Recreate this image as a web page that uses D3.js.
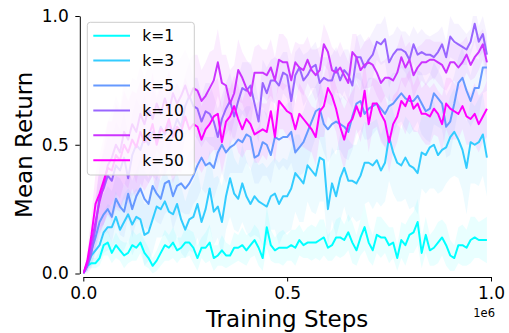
<!DOCTYPE html>
<html>
<head>
<meta charset="utf-8">
<script src="https://cdn.jsdelivr.net/npm/d3@7"></script>
<style>
    body { margin: 0; background: #ffffff; }
    svg { font-family: "DejaVu Sans", sans-serif; }
</style>
</head>
<body>
<div id="chart"></div>
<script>
// evaluation points, one every 1e4 training steps
var steps = d3.range(0, 100).map(function(i) { return i * 10000 })

var labels = ["k=1", "k=3", "k=5", "k=10", "k=20", "k=50"]
var colors = ["#00ffff", "#33ccff", "#6699ff", "#9966ff", "#cc33ff", "#ff00ff"]

var xTicks = [0, 500000, 1000000]
var yTicks = [0, 0.5, 1.0]

var meanK1 = [
    0.00, 0.03, 0.04, 0.04, 0.06, 0.11, 0.12, 0.08, 0.11, 0.09,
    0.07, 0.08, 0.11, 0.10, 0.12, 0.08, 0.06, 0.03, 0.05, 0.08,
    0.11, 0.10, 0.12, 0.09, 0.10, 0.12, 0.12, 0.10, 0.06, 0.10,
    0.10, 0.12, 0.06, 0.07, 0.09, 0.07, 0.07, 0.10, 0.10, 0.11,
    0.09, 0.11, 0.13, 0.10, 0.06, 0.18, 0.11, 0.09, 0.10, 0.10,
    0.10, 0.11, 0.10, 0.13, 0.11, 0.12, 0.12, 0.12, 0.13, 0.14,
    0.10, 0.11, 0.14, 0.14, 0.13, 0.16, 0.12, 0.09, 0.14, 0.18,
    0.12, 0.09, 0.15, 0.14, 0.14, 0.11, 0.12, 0.06, 0.13, 0.11,
    0.15, 0.16, 0.20, 0.08, 0.15, 0.09, 0.10, 0.12, 0.14, 0.11,
    0.07, 0.06, 0.11, 0.11, 0.10, 0.13, 0.14, 0.13, 0.13, 0.13
]
var meanK3 = [
    0.00, 0.03, 0.07, 0.09, 0.11, 0.16, 0.18, 0.18, 0.22, 0.17,
    0.20, 0.23, 0.19, 0.22, 0.21, 0.15, 0.16, 0.21, 0.26, 0.25,
    0.28, 0.24, 0.23, 0.27, 0.21, 0.17, 0.21, 0.22, 0.27, 0.20,
    0.25, 0.33, 0.24, 0.26, 0.20, 0.30, 0.37, 0.31, 0.29, 0.35,
    0.30, 0.27, 0.30, 0.28, 0.27, 0.26, 0.30, 0.31, 0.27, 0.30,
    0.30, 0.33, 0.39, 0.37, 0.35, 0.42, 0.40, 0.38, 0.45, 0.44,
    0.25, 0.35, 0.30, 0.37, 0.41, 0.36, 0.36, 0.35, 0.38, 0.43,
    0.43, 0.42, 0.44, 0.40, 0.43, 0.53, 0.47, 0.43, 0.42, 0.45,
    0.42, 0.41, 0.39, 0.47, 0.46, 0.49, 0.50, 0.46, 0.48, 0.49,
    0.53, 0.55, 0.52, 0.48, 0.41, 0.51, 0.50, 0.51, 0.54, 0.45
]
var meanK5 = [
    0.00, 0.04, 0.09, 0.14, 0.20, 0.23, 0.25, 0.22, 0.29, 0.26,
    0.24, 0.31, 0.25, 0.30, 0.33, 0.29, 0.27, 0.34, 0.31, 0.29,
    0.35, 0.36, 0.30, 0.34, 0.35, 0.33, 0.35, 0.38, 0.42, 0.45,
    0.42, 0.43, 0.41, 0.47, 0.50, 0.47, 0.49, 0.50, 0.52, 0.51,
    0.54, 0.53, 0.45, 0.46, 0.51, 0.50, 0.46, 0.53, 0.52, 0.53,
    0.53, 0.55, 0.47, 0.49, 0.51, 0.55, 0.59, 0.63, 0.64, 0.58,
    0.56, 0.58, 0.59, 0.58, 0.57, 0.55, 0.61, 0.66, 0.67, 0.62,
    0.64, 0.65, 0.66, 0.64, 0.62, 0.65, 0.66, 0.68, 0.70, 0.68,
    0.67, 0.67, 0.69, 0.66, 0.63, 0.64, 0.70, 0.68, 0.66, 0.57,
    0.59, 0.66, 0.74, 0.76, 0.71, 0.67, 0.72, 0.72, 0.80, 0.80
]
var meanK10 = [
    0.00, 0.03, 0.08, 0.18, 0.30, 0.33, 0.38, 0.36, 0.42, 0.40,
    0.45, 0.37, 0.46, 0.50, 0.48, 0.53, 0.50, 0.55, 0.52, 0.57,
    0.54, 0.58, 0.55, 0.60, 0.57, 0.65, 0.69, 0.65, 0.64, 0.59,
    0.63, 0.62, 0.59, 0.53, 0.60, 0.64, 0.67, 0.61, 0.67, 0.72,
    0.71, 0.73, 0.66, 0.59, 0.74, 0.70, 0.75, 0.75, 0.73, 0.78,
    0.77, 0.67, 0.77, 0.80, 0.75, 0.77, 0.80, 0.81, 0.74, 0.76,
    0.75, 0.75, 0.80, 0.75, 0.79, 0.77, 0.73, 0.84, 0.84, 0.80,
    0.83, 0.85, 0.90, 0.89, 0.91, 0.82, 0.85, 0.87, 0.87, 0.86,
    0.83, 0.89, 0.85, 0.86, 0.85, 0.85, 0.84, 0.86, 0.89, 0.84,
    0.92, 0.90, 0.89, 0.88, 0.87, 0.90, 0.97, 0.90, 0.93, 0.85
]
var meanK20 = [
    0.00, 0.04, 0.12, 0.20, 0.28, 0.34, 0.42, 0.45, 0.50, 0.47,
    0.55, 0.52, 0.58, 0.55, 0.62, 0.58, 0.64, 0.60, 0.66, 0.62,
    0.68, 0.63, 0.70, 0.66, 0.69, 0.73, 0.68, 0.72, 0.71, 0.67,
    0.69, 0.72, 0.75, 0.82, 0.74, 0.73, 0.66, 0.70, 0.79, 0.76,
    0.72, 0.69, 0.78, 0.78, 0.78, 0.77, 0.80, 0.75, 0.83, 0.82,
    0.82, 0.75, 0.82, 0.80, 0.79, 0.83, 0.79, 0.77, 0.79, 0.89,
    0.86, 0.79, 0.78, 0.80, 0.77, 0.74, 0.86, 0.84, 0.79, 0.81,
    0.82, 0.81, 0.78, 0.74, 0.76, 0.76, 0.75, 0.78, 0.84, 0.80,
    0.83, 0.77, 0.80, 0.82, 0.82, 0.83, 0.83, 0.82, 0.81, 0.78,
    0.82, 0.82, 0.80, 0.82, 0.85, 0.81, 0.84, 0.86, 0.89, 0.82
]
var meanK50 = [
    0.00, 0.05, 0.15, 0.27, 0.31, 0.36, 0.41, 0.40, 0.46, 0.44,
    0.50, 0.47, 0.52, 0.49, 0.55, 0.51, 0.53, 0.58, 0.50, 0.56,
    0.55, 0.60, 0.53, 0.57, 0.55, 0.61, 0.56, 0.58, 0.57, 0.52,
    0.56, 0.58, 0.61, 0.62, 0.51, 0.59, 0.61, 0.65, 0.60, 0.56,
    0.60, 0.58, 0.54, 0.55, 0.56, 0.55, 0.63, 0.53, 0.67, 0.65,
    0.63, 0.62, 0.56, 0.62, 0.60, 0.58, 0.56, 0.53, 0.63, 0.65,
    0.72, 0.69, 0.64, 0.57, 0.52, 0.58, 0.60, 0.65, 0.61, 0.71,
    0.58, 0.66, 0.66, 0.62, 0.59, 0.51, 0.58, 0.61, 0.67, 0.65,
    0.69, 0.64, 0.66, 0.62, 0.62, 0.61, 0.64, 0.62, 0.58, 0.66,
    0.64, 0.63, 0.62, 0.65, 0.61, 0.60, 0.62, 0.58, 0.61, 0.64
]

var stdK1 = [
    0.00, 0.01, 0.02, 0.02, 0.03, 0.04, 0.05, 0.04, 0.05, 0.04,
    0.05, 0.04, 0.06, 0.05, 0.04, 0.05, 0.04, 0.03, 0.04, 0.05,
    0.06, 0.05, 0.06, 0.05, 0.04, 0.06, 0.05, 0.06, 0.05, 0.04,
    0.06, 0.07, 0.05, 0.04, 0.06, 0.05, 0.04, 0.06, 0.05, 0.07,
    0.06, 0.05, 0.06, 0.07, 0.05, 0.08, 0.06, 0.05, 0.06, 0.07,
    0.05, 0.06, 0.07, 0.06, 0.05, 0.06, 0.07, 0.06, 0.08, 0.07,
    0.05, 0.06, 0.07, 0.08, 0.06, 0.07, 0.08, 0.06, 0.07, 0.09,
    0.07, 0.06, 0.07, 0.08, 0.06, 0.07, 0.06, 0.05, 0.07, 0.08,
    0.07, 0.08, 0.09, 0.06, 0.07, 0.06, 0.07, 0.08, 0.07, 0.08,
    0.06, 0.05, 0.07, 0.08, 0.07, 0.09, 0.08, 0.07, 0.08, 0.09
]
var stdK3 = [
    0.00, 0.02, 0.04, 0.05, 0.06, 0.08, 0.09, 0.08, 0.10, 0.09,
    0.11, 0.10, 0.12, 0.11, 0.10, 0.12, 0.11, 0.13, 0.12, 0.11,
    0.13, 0.12, 0.14, 0.12, 0.13, 0.11, 0.12, 0.14, 0.13, 0.12,
    0.14, 0.15, 0.13, 0.12, 0.14, 0.13, 0.15, 0.14, 0.13, 0.15,
    0.14, 0.13, 0.15, 0.14, 0.16, 0.15, 0.13, 0.14, 0.16, 0.15,
    0.14, 0.16, 0.15, 0.17, 0.15, 0.14, 0.16, 0.15, 0.17, 0.16,
    0.15, 0.14, 0.16, 0.17, 0.15, 0.16, 0.14, 0.15, 0.17, 0.16,
    0.15, 0.17, 0.16, 0.14, 0.15, 0.17, 0.16, 0.15, 0.14, 0.16,
    0.17, 0.15, 0.16, 0.14, 0.15, 0.16, 0.17, 0.15, 0.16, 0.14,
    0.16, 0.17, 0.15, 0.16, 0.18, 0.16, 0.15, 0.17, 0.16, 0.15
]
var stdK5 = [
    0.00, 0.03, 0.05, 0.06, 0.07, 0.08, 0.09, 0.10, 0.09, 0.11,
    0.10, 0.09, 0.11, 0.10, 0.12, 0.11, 0.10, 0.12, 0.11, 0.10,
    0.12, 0.11, 0.13, 0.12, 0.11, 0.10, 0.12, 0.11, 0.13, 0.12,
    0.11, 0.10, 0.12, 0.13, 0.11, 0.12, 0.10, 0.11, 0.13, 0.12,
    0.11, 0.12, 0.10, 0.11, 0.13, 0.12, 0.11, 0.10, 0.12, 0.11,
    0.13, 0.12, 0.10, 0.11, 0.12, 0.13, 0.11, 0.10, 0.12, 0.11,
    0.13, 0.12, 0.11, 0.10, 0.12, 0.11, 0.13, 0.12, 0.11, 0.10,
    0.12, 0.11, 0.10, 0.12, 0.13, 0.11, 0.12, 0.10, 0.11, 0.12,
    0.13, 0.11, 0.10, 0.12, 0.11, 0.13, 0.12, 0.11, 0.10, 0.12,
    0.13, 0.11, 0.10, 0.12, 0.11, 0.10, 0.12, 0.11, 0.10, 0.09
]
var stdK10 = [
    0.00, 0.03, 0.06, 0.09, 0.12, 0.14, 0.15, 0.16, 0.17, 0.16,
    0.18, 0.17, 0.16, 0.18, 0.17, 0.16, 0.15, 0.17, 0.16, 0.15,
    0.14, 0.16, 0.15, 0.14, 0.13, 0.12, 0.13, 0.11, 0.12, 0.10,
    0.11, 0.12, 0.10, 0.11, 0.09, 0.10, 0.11, 0.10, 0.09, 0.10,
    0.11, 0.09, 0.10, 0.08, 0.09, 0.10, 0.08, 0.09, 0.10, 0.08,
    0.09, 0.10, 0.09, 0.08, 0.10, 0.09, 0.08, 0.09, 0.10, 0.08,
    0.09, 0.10, 0.08, 0.09, 0.08, 0.10, 0.09, 0.08, 0.09, 0.10,
    0.08, 0.09, 0.07, 0.08, 0.09, 0.10, 0.08, 0.09, 0.07, 0.08,
    0.09, 0.07, 0.08, 0.09, 0.08, 0.07, 0.09, 0.08, 0.07, 0.06,
    0.08, 0.07, 0.08, 0.07, 0.06, 0.05, 0.07, 0.06, 0.07, 0.08
]
var stdK20 = [
    0.00, 0.03, 0.06, 0.10, 0.13, 0.15, 0.17, 0.18, 0.19, 0.18,
    0.20, 0.19, 0.18, 0.20, 0.19, 0.18, 0.17, 0.19, 0.18, 0.17,
    0.16, 0.18, 0.17, 0.16, 0.15, 0.14, 0.15, 0.13, 0.14, 0.12,
    0.13, 0.14, 0.12, 0.13, 0.11, 0.12, 0.13, 0.11, 0.12, 0.10,
    0.11, 0.12, 0.10, 0.11, 0.09, 0.10, 0.11, 0.09, 0.10, 0.11,
    0.09, 0.10, 0.08, 0.09, 0.10, 0.09, 0.08, 0.10, 0.09, 0.08,
    0.07, 0.09, 0.08, 0.10, 0.09, 0.08, 0.07, 0.09, 0.08, 0.09,
    0.10, 0.08, 0.09, 0.08, 0.07, 0.09, 0.08, 0.10, 0.09, 0.08,
    0.07, 0.09, 0.08, 0.07, 0.09, 0.08, 0.07, 0.08, 0.09, 0.07,
    0.08, 0.07, 0.09, 0.08, 0.07, 0.06, 0.08, 0.07, 0.06, 0.08
]
var stdK50 = [
    0.00, 0.04, 0.08, 0.12, 0.15, 0.17, 0.18, 0.19, 0.20, 0.19,
    0.21, 0.20, 0.19, 0.21, 0.20, 0.19, 0.18, 0.20, 0.19, 0.18,
    0.17, 0.19, 0.18, 0.17, 0.16, 0.15, 0.16, 0.14, 0.15, 0.13,
    0.14, 0.12, 0.13, 0.14, 0.12, 0.13, 0.11, 0.12, 0.13, 0.11,
    0.12, 0.10, 0.11, 0.12, 0.10, 0.11, 0.12, 0.10, 0.11, 0.09,
    0.10, 0.11, 0.10, 0.12, 0.11, 0.10, 0.09, 0.11, 0.10, 0.12,
    0.11, 0.10, 0.09, 0.11, 0.12, 0.10, 0.11, 0.09, 0.10, 0.12,
    0.11, 0.10, 0.09, 0.11, 0.10, 0.12, 0.11, 0.10, 0.09, 0.11,
    0.10, 0.09, 0.11, 0.10, 0.12, 0.11, 0.10, 0.09, 0.11, 0.10,
    0.12, 0.11, 0.10, 0.09, 0.11, 0.10, 0.12, 0.11, 0.10, 0.11
]

var means = [meanK1, meanK3, meanK5, meanK10, meanK20, meanK50]
var stds = [stdK1, stdK3, stdK5, stdK10, stdK20, stdK50]

var series = labels.map(function(label, s) {
    return {
        label: label,
        color: colors[s],
        values: steps.map(function(step, i) {
            return {"x": step, "y": means[s][i], "lo": means[s][i] - stds[s][i], "hi": means[s][i] + stds[s][i]}
        })
    }
})

var width = 509
var height = 333
var margins = ({
    top: 16,
    right: 18,
    bottom: 59.5,
    left: 83.3
})

var svg = d3.select("#chart")
    .append("svg")
    .attr("width", width)
    .attr("height", height)

var xScale = d3.scaleLinear()
    .domain([0, 1000000])
    .range([margins.left, width - margins.right])
var yScale = d3.scaleLinear()
    .domain([0, 1])
    .range([height - margins.bottom, margins.top])

svg.append("clipPath")
    .attr("id", "plot-clip")
    .append("rect")
    .attr("x", margins.left)
    .attr("y", margins.top)
    .attr("width", width - margins.left - margins.right)
    .attr("height", height - margins.top - margins.bottom)

var plot = svg.append("g").attr("clip-path", "url(#plot-clip)")

var band = d3.area()
    .x(d => xScale(d.x))
    .y0(d => yScale(d.lo))
    .y1(d => yScale(d.hi))
var line = d3.line()
    .x(d => xScale(d.x))
    .y(d => yScale(d.y))

// all shaded bands sit under all the lines
plot.selectAll(".band")
    .data(series)
    .enter()
    .append("path")
    .attr("class", "band")
    .attr("d", d => band(d.values))
    .attr("fill", d => d.color)
    .attr("fill-opacity", 0.085)
    .attr("stroke", "none")

plot.selectAll(".mean-line")
    .data(series)
    .enter()
    .append("path")
    .attr("class", "mean-line")
    .attr("d", d => line(d.values))
    .attr("fill", "none")
    .attr("stroke", d => d.color)
    .attr("stroke-width", 2)
    .attr("stroke-linejoin", "round")

// axes, spines pushed out a few pixels
var xAxis = svg.append("g")
    .attr("transform", `translate(0,${yScale(0) + 3.5})`)
    .call(d3.axisBottom(xScale)
        .tickValues(xTicks)
        .tickFormat(d => (d / 1000000).toFixed(1))
        .tickSize(4.5)
        .tickPadding(5.7)
        .tickSizeOuter(0))
var yAxis = svg.append("g")
    .attr("transform", `translate(${xScale(0) - 3.5},0)`)
    .call(d3.axisLeft(yScale)
        .tickValues(yTicks)
        .tickFormat(d => d.toFixed(1))
        .tickSize(4.5)
        .tickPadding(6.5)
        .tickSizeOuter(0))

svg.selectAll(".domain").attr("stroke", "#000").attr("stroke-width", 1)
svg.selectAll(".tick line").attr("stroke", "#000").attr("stroke-width", 1)
svg.selectAll(".tick text")
    .attr("fill", "#000")
    .style("font-size", "17px")
    .style("font-family", "DejaVu Sans, sans-serif")

svg.append("text")
    .attr("x", width - 14)
    .attr("y", 317)
    .attr("text-anchor", "end")
    .style("font-size", "11.5px")
    .text("1e6")

svg.append("text")
    .attr("x", (xScale(0) + xScale(1000000)) / 2)
    .attr("y", 327)
    .attr("text-anchor", "middle")
    .style("font-size", "23px")
    .text("Training Steps")

svg.append("text")
    .attr("transform", `translate(31.5,${(yScale(0) + yScale(1)) / 2}) rotate(-90)`)
    .attr("text-anchor", "middle")
    .style("font-size", "23px")
    .text("Mean Return")

// legend
var legend = svg.append("g").attr("transform", "translate(87.3,22.3)")
legend.append("rect")
    .attr("width", 107)
    .attr("height", 152.7)
    .attr("rx", 3)
    .attr("fill", "#ffffff")
    .attr("fill-opacity", 0.8)
    .attr("stroke", "#cccccc")
    .attr("stroke-width", 1)

var rows = legend.selectAll(".legend-row")
    .data(series)
    .enter()
    .append("g")
    .attr("class", "legend-row")
    .attr("transform", (d, i) => `translate(0,${13.4 + i * 24.9})`)
rows.append("line")
    .attr("x1", 6)
    .attr("x2", 42.7)
    .attr("stroke", d => d.color)
    .attr("stroke-width", 2)
rows.append("text")
    .attr("x", 55)
    .attr("dy", "0.36em")
    .style("font-size", "15.5px")
    .text(d => d.label)
</script>
</body>
</html>
